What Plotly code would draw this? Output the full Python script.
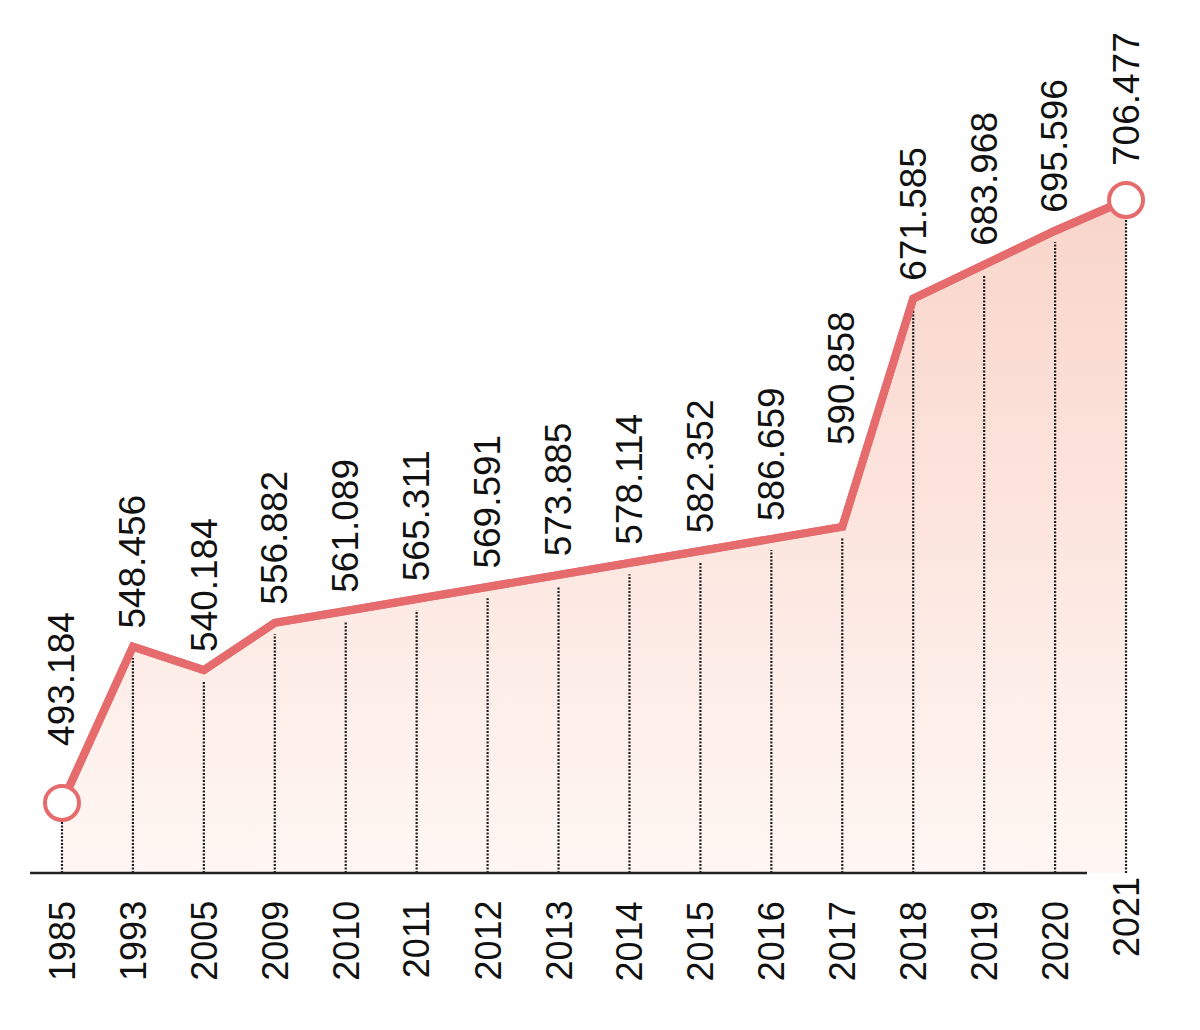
import plotly.graph_objects as go

# population by year (thousands)
years = ["1985", "1993", "2005", "2009", "2010", "2011", "2012", "2013",
         "2014", "2015", "2016", "2017", "2018", "2019", "2020", "2021"]
values = [493.184, 548.456, 540.184, 556.882, 561.089, 565.311, 569.591, 573.885,
          578.114, 582.352, 586.659, 590.858, 671.585, 683.968, 695.596, 706.477]
labels = ["493.184", "548.456", "540.184", "556.882", "561.089", "565.311", "569.591", "573.885",
          "578.114", "582.352", "586.659", "590.858", "671.585", "683.968", "695.596", "706.477"]

y_base = 468.4
line_col = "#E66B6D"
font_name = "Liberation Sans, Arial, sans-serif"
xi = list(range(len(years)))

fig = go.Figure()

# invisible baseline so the fill stops at the axis
fig.add_trace(go.Scatter(x=xi, y=[y_base] * len(years), mode="lines",
                         line=dict(width=0), hoverinfo="skip", showlegend=False))

fig.add_trace(go.Scatter(x=xi, y=values, mode="lines", fill="tonexty",
                         fillgradient=dict(type="vertical",
                                           colorscale=[[0, "#FFF7F4"], [1, "#F9D5CA"]]),
                         line=dict(color=line_col, width=8), showlegend=False))

# dotted drop lines
dx, dy = [], []
for x, v in zip(xi, values):
    dx += [x, x, None]
    dy += [y_base, v - 4, None]
fig.add_trace(go.Scatter(x=dx, y=dy, mode="lines",
                         line=dict(color="#1e1e1e", width=2.2, dash="2px,1.5px"),
                         hoverinfo="skip", showlegend=False))

# redraw the line over the dotted lines
fig.add_trace(go.Scatter(x=xi, y=values, mode="lines",
                         line=dict(color=line_col, width=8), showlegend=False))

fig.add_trace(go.Scatter(x=[xi[0], xi[-1]], y=[values[0], values[-1]], mode="markers",
                         marker=dict(size=34, color="white", line=dict(color=line_col, width=4)),
                         showlegend=False))

# some labels sit higher to clear the markers / steep segment
shift = {0: 55, 11: 80, 15: 32}
annos = []
for i, (x, v, t) in enumerate(zip(xi, values, labels)):
    annos.append(dict(x=x, y=v, xref="x", yref="y", text=t, textangle=-90, showarrow=False,
                      xanchor="center", yanchor="bottom", yshift=shift.get(i, 16),
                      font=dict(family=font_name, size=37, color="#111111")))
    annos.append(dict(x=x, y=0, xref="x", yref="paper", text=years[i], textangle=-90,
                      showarrow=False, xanchor="center", yanchor="top",
                      yshift=-2 if i == len(years) - 1 else -26,
                      font=dict(family=font_name, size=36, color="#111111")))
fig.update_layout(annotations=annos)

# axis line (paper y so it isn't clipped by the plot area)
fig.add_shape(type="line", x0=-0.45, x1=14.45, y0=0, y1=0, xref="x", yref="paper",
              line=dict(color="#222222", width=2.5))

fig.update_xaxes(range=[-0.761, 15.93], showgrid=False, zeroline=False,
                 showticklabels=False, showline=False)
fig.update_yaxes(range=[y_base, 774.4], showgrid=False, zeroline=False,
                 showticklabels=False, showline=False)
fig.update_layout(width=1184, height=1014, margin=dict(l=0, r=0, t=0, b=149),
                  plot_bgcolor="white", paper_bgcolor="white")

fig.write_html("out.html")
